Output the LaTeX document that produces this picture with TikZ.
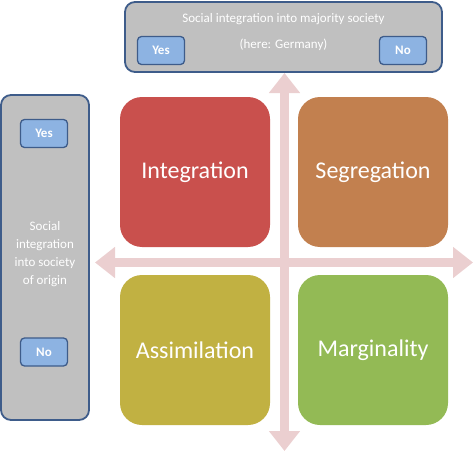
\documentclass[tikz,border=0pt]{standalone}
\usepackage{fontspec}
\setmainfont{Carlito}
\usetikzlibrary{arrows.meta}
\definecolor{panelgray}{HTML}{C0C0C0}
\definecolor{panelborder}{HTML}{3E5C8A}
\definecolor{btnfill}{HTML}{8DB3E2}
\definecolor{axiscol}{HTML}{EBCFD0}
\definecolor{qred}{HTML}{C9504D}
\definecolor{qorange}{HTML}{C2804F}
\definecolor{qolive}{HTML}{C1B142}
\definecolor{qgreen}{HTML}{93BA55}
\tikzset{
  panel/.style={draw=panelborder, line width=1.8pt, fill=panelgray, rounded corners=10pt},
  btn/.style={draw=panelborder, line width=1.3pt, fill=btnfill, rounded corners=4pt,
    minimum width=47pt, minimum height=28pt, inner sep=0pt, text=white,
    font=\fontsize{13}{15}\selectfont\bfseries},
  quad/.style={rounded corners=22pt, minimum width=150pt, minimum height=150pt,
    inner sep=0pt, text=white, font=\fontsize{24}{28}\selectfont},
  paneltext/.style={text=white, font=\fontsize{13}{18}\selectfont, align=center, inner sep=0pt},
  axis/.style={draw=axiscol, line width=9pt,
    {Triangle[width=30pt,length=20pt]}-{Triangle[width=30pt,length=20pt]}},
}
\begin{document}
\begin{tikzpicture}[x=1pt,y=-1pt]
\useasboundingbox (0,0) rectangle (474,452);
% panels
\draw[panel] (125,2) rectangle (442,72);
\draw[panel] (1,95) rectangle (89,420);
\node[paneltext] (toptitle) at (283.5,19) {Social integration into majority society};
\node[paneltext] (topsub) at (283.5,45) {(here: Germany)};
\node[btn] (topyes) at (161,50.5) {Yes};
\node[btn] (topno) at (403,50.5) {No};
\node[btn] (leftyes) at (44,133.5) {Yes};
\node[btn] (leftno) at (44,352) {No};
\node[paneltext] (lefttitle) at (45,254) {Social\\integration\\into society\\of origin};
% quadrants
\node[quad, fill=qred] (integ) at (195,172) {Integration};
\node[quad, fill=qorange] (segr) at (373,172) {Segregation};
\node[quad, fill=qolive] (assim) at (195,350) {Assimilation};
\node[quad, fill=qgreen] (marg) at (373,350) {Marginality};
% axes
\coordinate (vtop) at (284.5,73);
\coordinate (vbot) at (284.5,451);
\coordinate (hleft) at (95,262.5);
\coordinate (hright) at (473,262.5);
\draw[axis] (hleft) -- (hright);
\draw[axis] (vtop) -- (vbot);
\end{tikzpicture}
\end{document}
